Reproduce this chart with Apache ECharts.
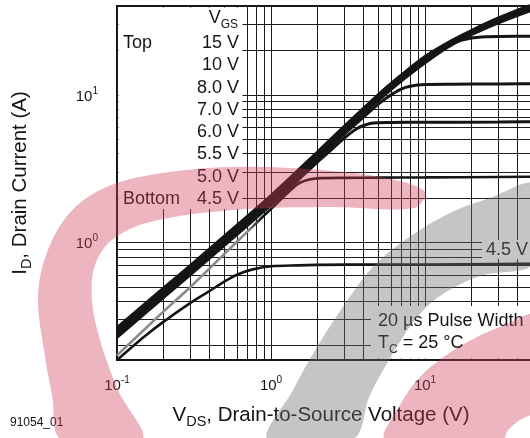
<!DOCTYPE html>
<html><head><meta charset="utf-8">
<script src="https://cdn.jsdelivr.net/npm/echarts@6/dist/echarts.min.js"></script>
<style>html,body{margin:0;padding:0;background:#fff}#c{width:530px;height:438px}</style>
</head><body><div id="c"></div>
<script>
// ---- tick / grid values ----
const xTickLabels = [0.1, 1, 10];
const yTickLabels = [1, 10];
const xGridValues = [0.1,0.2,0.3,0.4,0.5,0.6,0.7,0.8,0.9,1,2,3,4,5,6,7,8,9,10,20,30,40,50,60,70,80,90,100];
const yGridValues = [0.2,0.3,0.4,0.5,0.6,0.7,0.8,0.9,1,2,3,4,5,6,7,8,9,10,20,30,40];

// ---- V_GS labels (top to bottom) ----
const vgsLabels = ['15 V','10 V','8.0 V','7.0 V','6.0 V','5.5 V','5.0 V','4.5 V'];

// ---- curves: [V_DS (V), I_D (A)] ----
const curve15V = [[0.1,0.265],[0.2,0.49],[0.3,0.70],[0.5,1.11],[1,2.08],[2,4.1],[3,6.15],[5,10.1],[7,13.6],[10,18.2],[15,23.4],[20,27.3],[30,33.2],[50,41],[70,46.5]];
const curve10V = [[0.1,0.257],[0.2,0.478],[0.3,0.683],[0.5,1.08],[1,2.03],[2,4.0],[3,6.0],[5,9.8],[7,13.2],[10,17.6],[15,22.7],[20,26.4],[30,32.0],[50,39.3],[70,44]];
const curve8V  = [[0.1,0.25],[0.2,0.464],[0.3,0.663],[0.5,1.05],[1,1.97],[2,3.88],[3,5.8],[5,9.5],[7,12.8],[10,17.1],[15,22.0],[20,25.6],[30,30.8],[50,37.6],[70,40.5]];
const curve7V  = [[0.1,0.243],[0.2,0.45],[0.3,0.643],[0.5,1.02],[1,1.91],[2,3.76],[3,5.65],[5,9.2],[7,12.4],[10,16.5],[13,20.0],[16,22.8],[20,24.3],[25,24.8],[30,24.9],[50,25.0],[70,25.1]];
const curve6V  = [[0.1,0.235],[0.2,0.437],[0.3,0.624],[0.5,0.99],[1,1.85],[2,3.65],[3,5.45],[4,7.1],[5,8.7],[6,10.0],[7,10.95],[8,11.45],[10,11.75],[15,11.8],[30,11.85],[70,11.9]];
const curve55V = [[0.1,0.228],[0.2,0.423],[0.3,0.605],[0.5,0.96],[1,1.8],[1.5,2.65],[2,3.5],[2.5,4.3],[2.8,4.8],[3.2,5.4],[3.6,5.9],[4,6.2],[4.6,6.45],[6,6.5],[10,6.52],[30,6.55],[70,6.6]];
const curve5V  = [[0.1,0.172],[0.2,0.34],[0.3,0.50],[0.5,0.84],[0.7,1.18],[0.9,1.52],[1.1,1.86],[1.3,2.2],[1.5,2.5],[1.8,2.68],[2.1,2.73],[3,2.74],[5,2.75],[10,2.76],[30,2.78],[70,2.8]];
const curve45V = [[0.1,0.16],[0.15,0.23],[0.2,0.29],[0.3,0.39],[0.4,0.47],[0.5,0.545],[0.6,0.605],[0.75,0.655],[1.0,0.69],[1.5,0.70],[2,0.705],[5,0.71],[10,0.71],[30,0.715],[70,0.72]];
const curveData = [curve15V, curve10V, curve8V, curve7V, curve6V, curve55V, curve5V, curve45V];

const FONT = 'Liberation Sans, Arial, Helvetica, sans-serif';
const INK = '#151515';

const chart = echarts.init(document.getElementById('c'), null, {renderer: 'canvas'});

function powLabel(v) {
  const e = Math.round(Math.log10(v));
  return '{b|10}{sup|' + e + '}';
}
const tickRich = {
  b: {fontSize: 15, lineHeight: 18, verticalAlign: 'bottom', fontFamily: FONT, color: INK},
  sup: {fontSize: 10, lineHeight: 10, verticalAlign: 'top', fontFamily: FONT, color: INK}
};
const nameRich = {
  m: {fontSize: 20.5, lineHeight: 24, verticalAlign: 'top', fontFamily: FONT, color: INK},
  s: {fontSize: 14.5, lineHeight: 14, verticalAlign: 'bottom', fontFamily: FONT, color: INK}
};

// the 5.0 V trace is drawn lighter where it runs alone below the bundle
const greyToInk = {type: 'linear', x: 248, y: 0, x2: 262, y2: 0, global: true,
  colorStops: [{offset: 0, color: '#8a8a8a'}, {offset: 1, color: INK}]};

const series = curveData.map((d, i) => ({
  name: vgsLabels[i],
  type: 'line',
  data: d,
  showSymbol: false,
  smooth: 0.25,
  lineStyle: {color: i === 6 ? greyToInk : INK, width: i < 6 ? 3 : 2.6},
  itemStyle: {color: INK},
  z: 3,
  silent: true
}));

const plotLabelRich = {
  m: {fontSize: 18, lineHeight: 22, verticalAlign: 'top', fontFamily: FONT, fill: INK},
  s: {fontSize: 12, lineHeight: 12, verticalAlign: 'bottom', fontFamily: FONT, fill: INK}
};
function txt(x, y, text, align) {
  return {
    type: 'text', x: x, y: y, z: 5, silent: true,
    style: {legacy: false, text: text, fill: INK, fontSize: 18, fontFamily: FONT,
            align: align || 'left', verticalAlign: 'middle', rich: plotLabelRich}
  };
}
function box(x, y, w, h) {
  return {type: 'rect', z: 1, silent: true, shape: {x: x, y: y, width: w, height: h},
          style: {fill: '#ffffff'}};
}

const labelTop = 43, labelStep = 22.3;
const graphics = [
  box(118.5, 7.5, 124, 201.5),
  box(482, 240, 50, 19),
  box(371, 306, 162, 52.5),
  txt(238, 20, '{m|V}{s|GS}', 'right'),
  txt(123, labelTop, 'Top', 'left'),
  txt(123, labelTop + 7 * labelStep, 'Bottom', 'left'),
  txt(486, 250, vgsLabels[7], 'left'),
  txt(378, 321, '20 µs Pulse Width', 'left'),
  txt(378, 345, '{m|T}{s|C}{m| = 25 °C}', 'left'),
  {type: 'text', x: 10, y: 423, z: 5, silent: true,
   style: {legacy: false, text: '91054_01', fill: INK, fontSize: 12, fontFamily: FONT, align: 'left', verticalAlign: 'middle'}}
];
vgsLabels.forEach((t, i) => graphics.push(txt(239, labelTop + i * labelStep, t, 'right')));

// watermark (decorative)
graphics.push({
  type: 'polygon', z: 100, silent: true,
  shape: {smooth: 0.35, points: [[425,192],[395,180],[333,171],[233,167],[150,175],[100,190],[67,216],[45,258],[38,300],[44,350],[52,395],[62,440],[142,440],[118,390],[100,340],[92,300],[95,265],[112,240],[150,222],[233,210],[333,207],[414,208]]},
  style: {fill: 'rgba(205,60,90,0.38)'}
});
graphics.push({
  type: 'polygon', z: 100, silent: true,
  shape: {smooth: 0.35, points: [[268,440],[293,390],[317,347],[343,307],[372,268],[405,240],[450,213],[490,198],[535,185],[535,262],[480,276],[440,296],[415,320],[392,355],[370,395],[352,440]]},
  style: {fill: 'rgba(110,110,110,0.40)'}
});
graphics.push({
  type: 'polygon', z: 100, silent: true,
  shape: {smooth: 0.35, points: [[386,440],[400,405],[420,377],[445,356],[475,338],[505,325],[535,316],[535,410],[520,420],[508,430],[502,440]]},
  style: {fill: 'rgba(205,60,90,0.38)'}
});

chart.setOption({
  animation: false,
  backgroundColor: '#ffffff',
  grid: {left: 117, top: 6, right: -49, bottom: 78, show: true, borderColor: INK, borderWidth: 2,
         backgroundColor: 'transparent', containLabel: false, outerBoundsMode: 'none'},
  xAxis: {
    type: 'log', logBase: 10, min: 0.1, max: 100,
    name: '{m|V}{s|DS}{m|, Drain-to-Source Voltage (V)}',
    nameLocation: 'middle', nameGap: 45,
    nameTextStyle: {rich: nameRich, padding: [0, 54, 0, 0]},
    axisLine: {show: false},
    axisTick: {show: false, customValues: xGridValues},
    splitLine: {show: true, lineStyle: {color: '#1c1c1c', width: 1}},
    minorTick: {show: false}, minorSplitLine: {show: false},
    axisLabel: {customValues: xTickLabels, formatter: powLabel, rich: tickRich, margin: 15}
  },
  yAxis: {
    type: 'log', logBase: 10, min: 0.16, max: 40,
    name: '{m|I}{s|D}{m|, Drain Current (A)}',
    nameLocation: 'middle', nameGap: 83,
    nameTextStyle: {rich: nameRich},
    axisLine: {show: false},
    axisTick: {show: false, customValues: yGridValues},
    splitLine: {show: true, lineStyle: {color: '#1c1c1c', width: 1}},
    minorTick: {show: false}, minorSplitLine: {show: false},
    axisLabel: {customValues: yTickLabels, formatter: powLabel, rich: tickRich, margin: 19}
  },
  graphic: graphics,
  series: series
});
</script></body></html>
